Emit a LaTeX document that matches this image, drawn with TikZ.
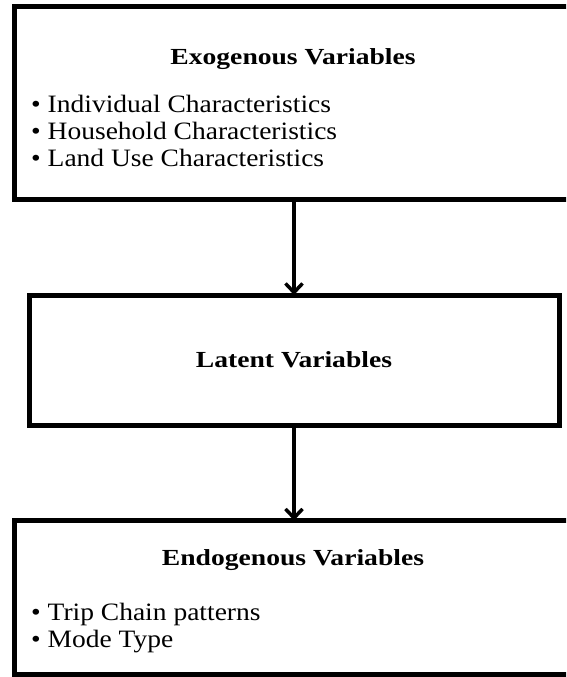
\documentclass[tikz,border=0pt]{standalone}
\usepackage{fontspec}
\setmainfont{Liberation Serif}
\usetikzlibrary{arrows.meta}
\tikzset{
  boxnode/.style={draw=black, line width=5pt, rectangle, inner sep=0pt, outer sep=0pt, fill=none},
  arr/.style={line width=4pt, -{Straight Barb[length=9pt,width=17pt,line width=3.5pt]}},
  titletext/.style={anchor=base, inner sep=0pt, font=\fontsize{23}{27}\selectfont\bfseries},
  bodytext/.style={anchor=base west, inner sep=0pt, font=\fontsize{25}{27}\selectfont}
}
\newcommand{\wx}[2]{\scalebox{#1}[1]{#2}}
\begin{document}
\begin{tikzpicture}[x=1pt,y=-1pt]
\useasboundingbox (0,0) rectangle (566,677);
\fill[white] (0,0) rectangle (566,677);
\begin{scope}
\clip (0,0) rectangle (566,677);
\node[boxnode, minimum width=558pt, minimum height=192pt] (top) at (293,103) {};
\node[boxnode, minimum width=530pt, minimum height=130pt] (mid) at (294,360) {};
\node[boxnode, minimum width=558pt, minimum height=154pt] (bot) at (293,597.5) {};
\end{scope}

\node[titletext] (t1) at (293,65) {\wx{1.2}{Exogenous Variables}};
\node[bodytext] (b11) at (31,112) {\wx{1.1}{• Individual Characteristics}};
\node[bodytext] (b12) at (31,139) {\wx{1.1}{• Household Characteristics}};
\node[bodytext] (b13) at (31,166) {\wx{1.1}{• Land Use Characteristics}};

\node[titletext] (t2) at (294,367) {\wx{1.2}{Latent Variables}};

\node[titletext] (t3) at (293,565) {\wx{1.2}{Endogenous Variables}};
\node[bodytext] (b31) at (31,620) {\wx{1.1}{• Trip Chain patterns}};
\node[bodytext] (b32) at (31,647) {\wx{1.1}{• Mode Type}};

\draw[arr] (top.south -| mid.north) -- (mid.north);
\draw[arr] (mid.south) -- (bot.north -| mid.south);
\end{tikzpicture}
\end{document}
